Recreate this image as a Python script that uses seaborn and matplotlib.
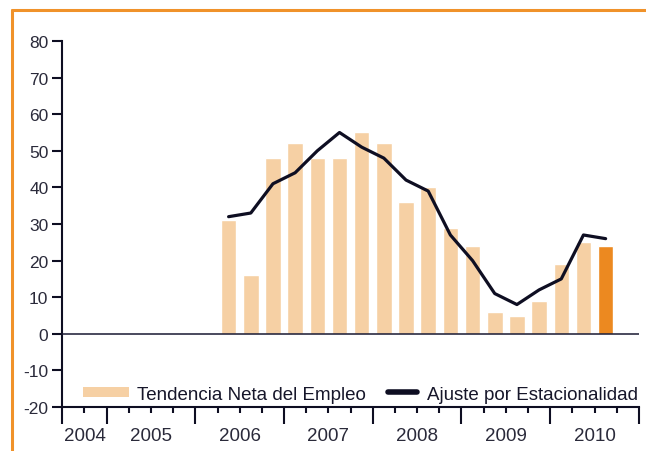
import matplotlib
matplotlib.use("Agg")
import matplotlib.pyplot as plt
from matplotlib.lines import Line2D
from matplotlib.patches import Patch
import pandas as pd
import seaborn as sns

# trimestres contados desde 2004 T3 (indice 0); datos de 2006 T2 a 2010 T3
quarter_idx = list(range(7, 25))
tendencia = [31, 16, 48, 52, 48, 48, 55, 52, 36, 40, 29, 24, 6, 5, 9, 19, 25, 24]
ajuste = [32, 33, 41, 44, 50, 55, 51, 48, 42, 39, 27, 20, 11, 8, 12, 15, 27, 26]
years = ["2004", "2005", "2006", "2007", "2008", "2009", "2010"]
year_bounds = [0, 2, 6, 10, 14, 18, 22, 26]
y_ticks = list(range(-20, 81, 10))

LIGHT = "#F6D0A4"
ORANGE = "#EC8920"
NAVY = "#0E0E22"
TXT = "#2A2A3A"

df = pd.DataFrame({
    "pos": [q + 0.5 for q in quarter_idx],
    "tendencia": tendencia,
    "ajuste": ajuste,
})
df["tipo"] = ["hist"] * (len(df) - 1) + ["actual"]

sns.set_theme(style="ticks")
plt.rcParams["font.family"] = ["Liberation Sans", "DejaVu Sans"]

fig = plt.figure(figsize=(6.46, 4.52), dpi=100)
ax = fig.add_axes([0.0964, 0.0973, 0.8926, 0.8098])

sns.barplot(data=df, x="pos", y="tendencia", hue="tipo",
            palette={"hist": LIGHT, "actual": ORANGE}, native_scale=True,
            width=0.7, dodge=False, legend=False, errorbar=None,
            saturation=1, ax=ax, zorder=2)
sns.lineplot(data=df, x="pos", y="ajuste", color=NAVY, lw=2.3, ax=ax, zorder=4)

ax.axhline(0, color="#1A1A33", lw=1.3, alpha=0.85, zorder=3)

ax.set_xlim(year_bounds[0], year_bounds[-1])
ax.set_ylim(y_ticks[0], y_ticks[-1])
ax.set_yticks(y_ticks)
ax.set_yticklabels([str(v) for v in y_ticks])

# ticks: limites de anio (largos) y trimestres (cortos) con el anio al centro
ax.set_xticks(year_bounds)
ax.set_xticklabels([""] * len(year_bounds))
minor_pos = [q for q in range(1, 26) if q not in year_bounds]
centers = {(a + b) / 2: y for a, b, y in zip(year_bounds[:-1], year_bounds[1:], years)}
ax.set_xticks(minor_pos, minor=True)
ax.set_xticklabels([centers.get(q, "") for q in minor_pos], minor=True)

ax.set_xlabel("")
ax.set_ylabel("")
sns.despine(ax=ax)
for s in ["left", "bottom"]:
    ax.spines[s].set_color(NAVY)
    ax.spines[s].set_linewidth(1.5)

ax.tick_params(axis="y", direction="out", length=7, width=1.5, color=NAVY,
               labelsize=12.5, labelcolor=TXT, pad=3)
ax.tick_params(axis="x", which="major", direction="out", length=12.5, width=1.5,
               color=NAVY)
ax.tick_params(axis="x", which="minor", direction="out", length=4, width=1.5,
               color=NAVY, labelsize=13.5, labelcolor=TXT, pad=10.5)

# leyenda en dos partes (handles de distinto largo)
leg1 = ax.legend([Patch(facecolor=LIGHT, edgecolor="none")],
                 ["Tendencia Neta del Empleo"], loc="center left",
                 bbox_to_anchor=(0.036, 0.0355), frameon=False, borderpad=0,
                 borderaxespad=0, handlelength=2.45, handleheight=0.45,
                 handletextpad=0.45, fontsize=13.5, labelcolor="#16162A")
ax.add_artist(leg1)
ax.legend([Line2D([], [], color=NAVY, lw=4, solid_capstyle="round")],
          ["Ajuste por Estacionalidad"], loc="center left",
          bbox_to_anchor=(0.565, 0.0355), frameon=False, borderpad=0,
          borderaxespad=0, handlelength=1.55, handletextpad=0.5,
          fontsize=13.5, labelcolor="#16162A")

# marco naranja (arriba e izquierda)
fig.add_artist(Line2D([0.0186, 1.0], [0.9746, 0.9746], transform=fig.transFigure,
                      color="#F0922A", lw=2.2))
fig.add_artist(Line2D([0.0186, 0.0186], [0.9746, 0.0], transform=fig.transFigure,
                      color="#F0922A", lw=2.2))

fig.savefig("out.png", dpi=100)
